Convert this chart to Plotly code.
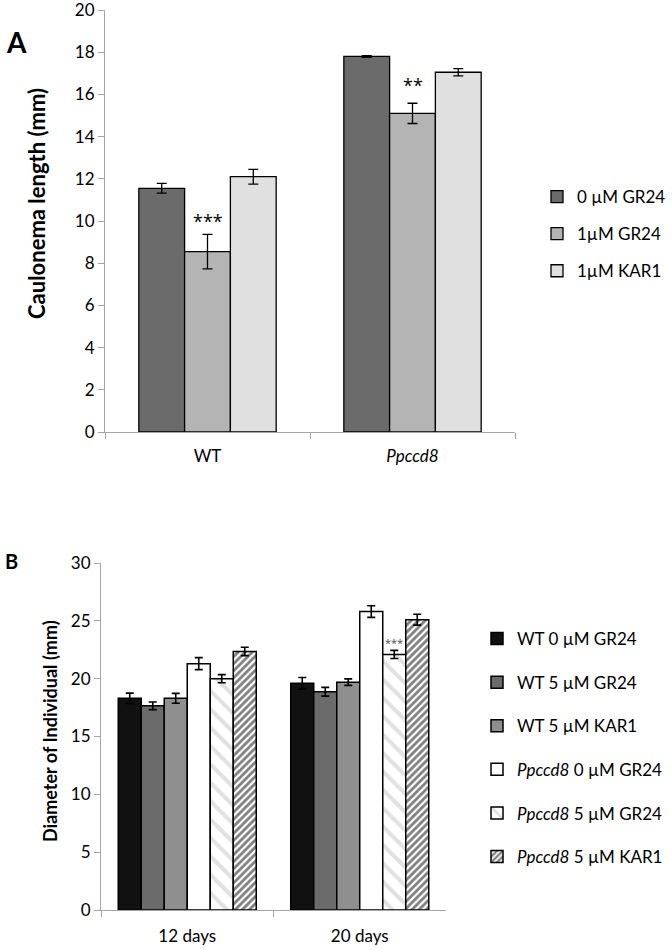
import plotly.graph_objects as go

# ---------------- Data ----------------
# Panel A
a_categories = ["WT", "<i>Ppccd8</i>"]
a_series = ["0 µM GR24", "1µM GR24", "1µM KAR1"]
a_values = {
    "0 µM GR24": [11.55, 17.8],
    "1µM GR24": [8.55, 15.1],
    "1µM KAR1": [12.1, 17.05],
}
a_errors = {
    "0 µM GR24": [0.23, 0.04],
    "1µM GR24": [0.82, 0.48],
    "1µM KAR1": [0.35, 0.17],
}
a_colors = ["#6b6b6b", "#b4b4b4", "#e0e0e0"]

# Panel B
b_categories = ["12 days", "20 days"]
b_series = ["WT 0 µM GR24", "WT 5 µM GR24", "WT 5 µM KAR1",
            "<i>Ppccd8</i> 0 µM GR24", "<i>Ppccd8</i> 5 µM GR24", "<i>Ppccd8</i> 5 µM KAR1"]
b_values = {
    "WT 0 µM GR24": [18.3, 19.6],
    "WT 5 µM GR24": [17.65, 18.87],
    "WT 5 µM KAR1": [18.3, 19.7],
    "<i>Ppccd8</i> 0 µM GR24": [21.3, 25.8],
    "<i>Ppccd8</i> 5 µM GR24": [20.0, 22.1],
    "<i>Ppccd8</i> 5 µM KAR1": [22.35, 25.1],
}
b_errors = {
    "WT 0 µM GR24": [0.45, 0.5],
    "WT 5 µM GR24": [0.33, 0.38],
    "WT 5 µM KAR1": [0.43, 0.28],
    "<i>Ppccd8</i> 0 µM GR24": [0.52, 0.5],
    "<i>Ppccd8</i> 5 µM GR24": [0.35, 0.35],
    "<i>Ppccd8</i> 5 µM KAR1": [0.36, 0.47],
}
b_colors = ["#111111", "#6b6b6b", "#8f8f8f", "#ffffff", "#ffffff", "#ffffff"]

FONT = "Lato"
W, H = 672, 950

fig = go.Figure()

# ---------- Panel A bars ----------
a_group = 0.67
a_bw = a_group / len(a_series)
for i, s in enumerate(a_series):
    fig.add_trace(go.Bar(
        x=a_categories, y=a_values[s], name=s,
        width=a_bw, offset=-a_group / 2 + i * a_bw,
        marker=dict(color=a_colors[i], line=dict(color="#000000", width=1.3)),
        error_y=dict(type="data", array=a_errors[s], color="#000000", thickness=1.3, width=5),
        xaxis="x", yaxis="y", legend="legend", legendgroup="a" + str(i),
    ))

# ---------- Panel B bars ----------
b_group = 0.8
b_bw = b_group / len(b_series)
patterns = [None, None, None, None,
            dict(shape="\\", fgcolor="#c4c4c4", bgcolor="#ffffff", size=13, solidity=0.32),
            dict(shape="/", fgcolor="#000000", bgcolor="#ffffff", size=5, solidity=0.55)]
for i, s in enumerate(b_series):
    mk = dict(color=b_colors[i], line=dict(color="#000000", width=1.5))
    if patterns[i] is not None:
        mk["pattern"] = patterns[i]
    fig.add_trace(go.Bar(
        x=b_categories, y=b_values[s], name=s,
        width=b_bw, offset=-b_group / 2 + i * b_bw,
        marker=mk,
        error_y=dict(type="data", array=b_errors[s], color="#000000", thickness=1.6, width=4),
        xaxis="x2", yaxis="y2", legend="legend2", legendgroup="b" + str(i),
    ))

axis_col = "#a6a6a6"
common_x = dict(type="category", showline=True, linecolor=axis_col, linewidth=1.2,
                ticks="outside", tickson="boundaries", ticklen=6, tickcolor=axis_col,
                showgrid=False, zeroline=False, fixedrange=True, automargin=False,
                ticklabeloverflow="allow",
                tickfont=dict(family=FONT, size=17, color="#000000"))
common_y = dict(showline=True, linecolor=axis_col, linewidth=1.2, ticks="outside",
                ticklen=6, tickcolor=axis_col, showgrid=False, zeroline=False,
                fixedrange=True, automargin=False, ticklabeloverflow="allow",
                tickfont=dict(family=FONT, size=17, color="#000000"))

fig.update_layout(
    width=W, height=H,
    margin=dict(l=0, r=0, t=0, b=0, autoexpand=False),
    paper_bgcolor="#ffffff", plot_bgcolor="#ffffff",
    barmode="overlay",
    font=dict(family=FONT, color="#000000"),
    xaxis=dict(domain=[105 / W, 515 / W], anchor="y", ticklabelstandoff=8, **common_x),
    yaxis=dict(domain=[1 - 432 / H, 1 - 10 / H], anchor="x", range=[0, 20], dtick=2, **common_y),
    xaxis2=dict(domain=[101 / W, 446 / W], anchor="y2", ticklabelstandoff=10, **common_x),
    yaxis2=dict(domain=[1 - 910 / H, 1 - 563 / H], anchor="x2", range=[0, 30], dtick=5, **common_y),
    legend=dict(x=537 / W, y=1 - 179 / H, xanchor="left", yanchor="top",
                font=dict(family=FONT, size=17), tracegroupgap=12,
                itemclick=False, itemdoubleclick=False, bgcolor="rgba(0,0,0,0)"),
    legend2=dict(x=477 / W, y=1 - 621 / H, xanchor="left", yanchor="top",
                 font=dict(family=FONT, size=17), tracegroupgap=18.5,
                 itemclick=False, itemdoubleclick=False, bgcolor="rgba(0,0,0,0)"),
    showlegend=True,
)

def pa(text, x, y, size, angle=0, color="#000000", family=FONT):
    return dict(text=text, x=x / W, y=1 - y / H, xref="paper", yref="paper",
                xanchor="center", yanchor="middle", showarrow=False, textangle=angle,
                font=dict(family=family, size=size, color=color))

annotations = [
    pa("<b>A</b>", 16, 42, 28),
    pa("<b>B</b>", 11, 561, 20),
    pa("<b>Caulonema length (mm)</b>", 37, 204, 22, angle=-90),
    pa("<b>Diameter of Individual (mm)</b>", 50, 731, 18, angle=-90),
    # significance marks
    dict(text="***", x=0, y=10.0, xref="x", yref="y", showarrow=False,
         xanchor="center", yanchor="middle",
         font=dict(family="Open Sans", size=18, color="#000000")),
    dict(text="**", x=1, y=16.45, xref="x", yref="y", showarrow=False,
         xanchor="center", yanchor="middle",
         font=dict(family="Open Sans", size=18, color="#000000")),
    dict(text="***", x=1 - b_group / 2 + 4.5 * b_bw, y=23.1, xref="x2", yref="y2", showarrow=False,
         xanchor="center", yanchor="middle",
         font=dict(family="Open Sans", size=11, color="#4d4d4d")),
]
fig.update_layout(annotations=annotations)

fig.write_html("out.html", post_script="document.body.style.margin='0px';",
               config={"displayModeBar": False})
